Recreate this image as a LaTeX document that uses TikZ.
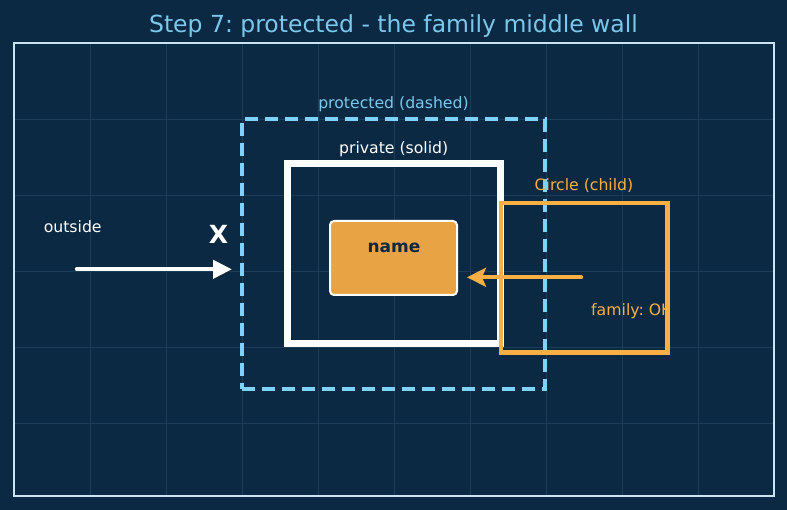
\documentclass[tikz,border=0pt]{standalone}
\usepackage{fontspec}
\setmainfont{DejaVu Sans}
\usetikzlibrary{arrows.meta}
\frenchspacing
\definecolor{bgc}{HTML}{0B2942}
\definecolor{gridc}{HTML}{1C3D59}
\definecolor{framec}{HTML}{C9E3F3}
\definecolor{skyc}{HTML}{7DD3FC}
\definecolor{labc}{HTML}{7CC8EC}
\definecolor{orc}{HTML}{F8B045}
\definecolor{namefill}{HTML}{E8A444}
\tikzset{
  wall/.style={draw, minimum width=#1, inner sep=0pt},
  lbl/.style={anchor=base, inner sep=0pt, font=\fontsize{15.7}{18}\selectfont},
  gridline/.style={draw=gridc, line width=0.8pt},
}
\begin{document}
\begin{tikzpicture}[x=1pt,y=-1pt]
\fill[bgc] (0,0) rectangle (787,510);
\useasboundingbox (0,0) rectangle (787,510);
% grid
\foreach \gx in {90,166,242,318,394,470,546,622,698}
  \draw[gridline] (\gx,44) -- (\gx,495);
\foreach \gy in {119,195,271,347,423}
  \draw[gridline] (15,\gy) -- (773,\gy);
% frame
\draw[framec, line width=1.8pt] (14,43) rectangle (774,496);
% title
\node[anchor=base, inner sep=0pt, text=labc, font=\fontsize{23.5}{27}\selectfont] (title) at (393.5,32.3) {Step 7: protected - the family middle wall};
% protected dashed box
\node[wall=303pt, minimum height=270pt, draw=skyc, line width=3.5pt, dash pattern=on 13pt off 7pt] (prot) at (393.5,254) {};
\node[lbl, text=labc] (protlbl) at (393.5,108.3) {protected (dashed)};
% private solid box
\node[wall=213pt, minimum height=180pt, draw=white, line width=7pt] (priv) at (393.5,254) {};
\node[lbl, text=white] (privlbl) at (393.7,153.3) {private (solid)};
% name box
\node[wall=127pt, minimum height=74pt, draw=white, fill=namefill, line width=2pt, rounded corners=4pt] (namebox) at (393.5,258) {};
\node[anchor=base, inner sep=0pt, text=bgc, font=\fontsize{17}{20}\selectfont\bfseries] (namelbl) at (394,252.3) {name};
% child
\begin{scope}
\clip (500,290) rectangle (668,330);
\node[lbl, anchor=base west, text=orc] (fam) at (591,315.7) {family: OK};
\end{scope}
\node[wall=166.5pt, minimum height=149.5pt, draw=orc, line width=4.5pt] (child) at (584.2,277.7) {};
\node[lbl, text=orc] (childlbl) at (584,191) {Circle (child)};
% outside
\node[lbl, text=white] (outlbl) at (72.7,232.3) {outside};
\node[anchor=base, inner sep=0pt, text=white, font=\fontsize{25}{30}\selectfont\bfseries] (xmark) at (218.5,243.5) {X};
% arrows
\coordinate (wa) at (77,269.3);
\coordinate (wb) at (232,269.3);
\draw[white, line width=4.3pt, line cap=round, -{Triangle[length=19pt,width=18pt]}] (wa) -- (wb);
\coordinate (oa) at (581,277.3);
\coordinate (ob) at (467,277.3);
\draw[orc, line width=4.3pt, line cap=round, -{Stealth[length=19pt,width=19pt,inset=4pt]}] (oa) -- (ob);
\end{tikzpicture}
\end{document}
